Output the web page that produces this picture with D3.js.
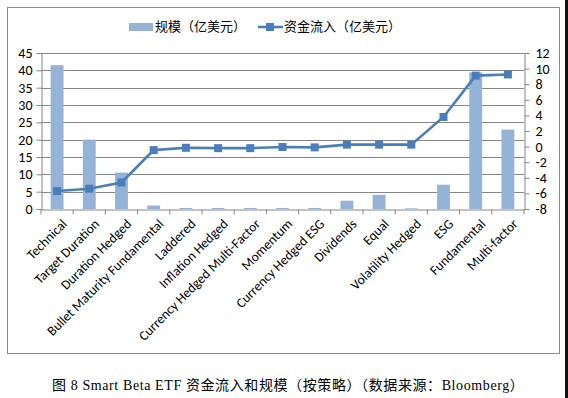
<!DOCTYPE html>
<html>
<head>
<meta charset="utf-8">
<script src="https://cdn.jsdelivr.net/npm/d3@7"></script>
<style>
  body { margin: 0; background: #fff; }
  svg { display: block; }
</style>
</head>
<body>
<div id="chart"></div>
<script>
const categories = ['Technical', 'Target Duration', 'Duration Hedged', 'Bullet Maturity  Fundamental',
  'Laddered', 'Inflation Hedged', 'Currency Hedged Multi-Factor', 'Momentum', 'Currency Hedged ESG',
  'Dividends', 'Equal', 'Volatility Hedged', 'ESG', 'Fundamental', 'Multi-factor'];
const scaleValues = [41.5, 20, 10.5, 1.0, 0.3, 0.3, 0.3, 0.3, 0.3, 2.4, 4.1, 0.2, 7.0, 39.4, 22.9];
const flowValues = [-5.7, -5.4, -4.6, -0.45, -0.15, -0.2, -0.2, -0.05, -0.1, 0.25, 0.25, 0.25, 3.8, 9.1, 9.25];
const leftTicks = [0, 5, 10, 15, 20, 25, 30, 35, 40, 45];
const rightTicks = [-8, -6, -4, -2, 0, 2, 4, 6, 8, 10, 12];
const legendLabels = ['规模（亿美元）', '资金流入（亿美元）'];
const caption = '图  8 Smart Beta ETF 资金流入和规模（按策略）（数据来源：Bloomberg）';

const width = 568, height = 398;
const margin = { left: 41, right: 44, top: 53, bottom: 189 };
const barColor = '#95b3d7';
const lineColor = '#4a7ebb';
const font = 'Carlito, "Open Sans", "Liberation Sans", sans-serif';

const svg = d3.select('#chart').append('svg')
  .attr('width', width)
  .attr('height', height);

// outer frame
svg.append('rect')
  .attr('x', 7.5).attr('y', 7.5)
  .attr('width', 552).attr('height', 346)
  .attr('fill', 'none')
  .attr('stroke', '#8c8c8c');
svg.append('rect')
  .attr('x', 565).attr('y', 0)
  .attr('width', 3).attr('height', height)
  .attr('fill', '#111');

const x = d3.scaleBand()
  .domain(categories)
  .range([margin.left, width - margin.right]);
const yL = d3.scaleLinear().domain([0, 45]).range([height - margin.bottom, margin.top]);
const yR = d3.scaleLinear().domain([-8, 12]).range([height - margin.bottom, margin.top]);

// gridlines
svg.append('g')
  .selectAll('line')
  .data(leftTicks.slice(1))
  .join('line')
  .attr('x1', margin.left).attr('x2', width - margin.right)
  .attr('y1', d => Math.round(yL(d)) + 0.5).attr('y2', d => Math.round(yL(d)) + 0.5)
  .attr('stroke', '#868686');

// bars
const barW = x.bandwidth() * 0.4;
svg.append('g')
  .selectAll('rect')
  .data(categories)
  .join('rect')
  .attr('x', (d, i) => x(d) + (x.bandwidth() - barW) / 2)
  .attr('y', (d, i) => yL(scaleValues[i]))
  .attr('width', barW)
  .attr('height', (d, i) => yL(0) - yL(scaleValues[i]))
  .attr('fill', barColor);

// axes
const axisLeft = svg.append('g')
  .attr('transform', `translate(${margin.left + 0.5},0)`)
  .call(d3.axisLeft(yL).tickValues(leftTicks).tickSize(5).tickSizeOuter(0).tickPadding(4).tickFormat(d => String(d)));
const axisRight = svg.append('g')
  .attr('transform', `translate(${width - margin.right + 0.5},0)`)
  .call(d3.axisRight(yR).tickValues(rightTicks).tickSize(5).tickSizeOuter(0).tickPadding(6).tickFormat(d => String(d)));
const axisBottom = svg.append('g')
  .attr('transform', `translate(0,${Math.round(yL(0)) + 0.5})`)
  .call(d3.axisBottom(x).tickSize(5).tickSizeOuter(0).tickFormat(''));
// category boundary ticks instead of centre ticks
axisBottom.selectAll('.tick line').attr('transform', `translate(${-x.bandwidth() / 2},0)`);
axisBottom.append('line')
  .attr('x1', width - margin.right).attr('x2', width - margin.right)
  .attr('y1', 0).attr('y2', 5).attr('stroke', '#868686');

[axisLeft, axisRight, axisBottom].forEach(g => {
  g.selectAll('path, line').attr('stroke', '#868686');
  g.selectAll('text')
    .attr('fill', '#000')
    .style('font-family', font)
    .style('font-size', '14px');
});

// rotated category labels
svg.append('g')
  .selectAll('text')
  .data(categories)
  .join('text')
  .attr('transform', d => `translate(${x(d) + x.bandwidth() / 2 + 4},${yL(0) + 9}) rotate(-45)`)
  .attr('text-anchor', 'end')
  .attr('dy', '0.7em')
  .style('font-family', font)
  .style('font-size', '13.5px')
  .text(d => d);

// flow line
const line = d3.line()
  .x((d, i) => x(categories[i]) + x.bandwidth() / 2)
  .y(d => yR(d));
svg.append('path')
  .datum(flowValues)
  .attr('d', line)
  .attr('fill', 'none')
  .attr('stroke', lineColor)
  .attr('stroke-width', 2.6);
svg.append('g')
  .selectAll('rect')
  .data(flowValues)
  .join('rect')
  .attr('x', (d, i) => x(categories[i]) + x.bandwidth() / 2 - 4)
  .attr('y', d => yR(d) - 4)
  .attr('width', 8).attr('height', 8)
  .attr('fill', lineColor);

// legend
const legend = svg.append('g').style('font-family', '"Noto Sans CJK SC", sans-serif').style('font-size', '13px');
legend.append('rect')
  .attr('x', 129).attr('y', 23).attr('width', 24).attr('height', 8)
  .attr('fill', barColor);
legend.append('text').attr('x', 155).attr('y', 31).text(legendLabels[0]);
legend.append('line')
  .attr('x1', 258).attr('x2', 283).attr('y1', 27).attr('y2', 27)
  .attr('stroke', lineColor).attr('stroke-width', 2.6);
legend.append('rect')
  .attr('x', 266).attr('y', 23).attr('width', 8).attr('height', 8)
  .attr('fill', lineColor);
legend.append('text').attr('x', 284).attr('y', 31).text(legendLabels[1]);

// caption
svg.append('text')
  .attr('x', 52).attr('y', 390)
  .style('font-family', '"Liberation Serif", "Noto Sans CJK SC", serif')
  .style('font-size', '14px')
  .style('letter-spacing', '0.6px')
  .text(caption);
</script>
</body>
</html>
